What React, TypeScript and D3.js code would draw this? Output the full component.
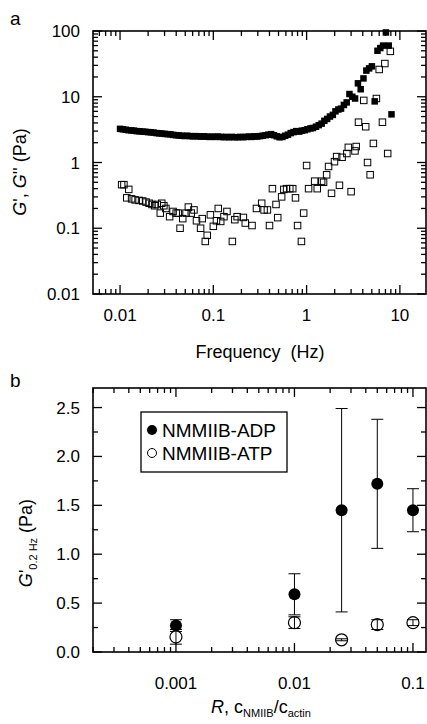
import React from "react";
import * as d3 from "d3";

// ---------- Panel a data ----------
const storageFreq = [0.0100,0.0107,0.0115,0.0123,0.0132,0.0141,0.0151,0.0162,0.0174,0.0186,0.0200,0.0214,0.0229,0.0246,0.0263,0.0282,0.0302,0.0324,0.0347,0.0372,0.0398,0.0427,0.0457,0.0490,0.0525,0.0562,0.0603,0.0646,0.0692,0.0741,0.0794,0.0851,0.0912,0.0977,0.105,0.112,0.120,0.129,0.138,0.148,0.158,0.170,0.182,0.195,0.209,0.224,0.240,0.257,0.275,0.295,0.316,0.339,0.363,0.389,0.417,0.447,0.479,0.513,0.550,0.589,0.631,0.676,0.724,0.776,0.832,0.891,0.955,1.02,1.10,1.17,1.26,1.35,1.45,1.55,1.66,1.78,1.91,2.04,2.19,2.34,2.51,2.69,2.88,3.09,3.31,3.55,3.80,4.07,4.37,4.68,5.01,5.37,5.75,6.17,6.61,7.08,7.59,8.13];
const storageModulus = [3.25,3.2,3.15,3.1,3.08,3.05,3.0,2.98,2.95,2.93,2.9,2.88,2.85,2.8,2.78,2.75,2.72,2.7,2.68,2.63,2.6,2.58,2.55,2.53,2.55,2.52,2.5,2.52,2.5,2.48,2.5,2.47,2.45,2.47,2.45,2.48,2.45,2.43,2.45,2.42,2.45,2.43,2.42,2.45,2.43,2.45,2.48,2.45,2.5,2.48,2.52,2.55,2.6,2.65,2.7,2.6,2.5,2.42,2.45,2.55,2.65,2.8,2.9,3.0,2.95,3.05,3.1,3.2,3.3,3.35,3.5,3.7,3.9,4.3,4.6,5.0,5.3,6.0,6.4,6.6,7.5,8.2,11.0,10.0,9.4,16.0,13.0,19.0,25.0,27.0,29.0,8.5,50.0,55.0,60.0,95.0,60.0,5.4];

const lossFreq = [0.0104,0.0110,0.0118,0.0124,0.0133,0.0145,0.0160,0.0175,0.0190,0.0205,0.0220,0.0235,0.0250,0.0270,0.0280,0.0295,0.0310,0.0340,0.0370,0.0400,0.0420,0.0440,0.0470,0.0510,0.0540,0.0580,0.0620,0.0660,0.0730,0.0760,0.0820,0.0860,0.0930,0.100,0.108,0.113,0.120,0.130,0.140,0.160,0.170,0.180,0.210,0.220,0.260,0.290,0.330,0.350,0.380,0.400,0.430,0.470,0.490,0.540,0.570,0.610,0.660,0.710,0.760,0.800,0.880,0.930,1.00,1.05,1.22,1.30,1.45,1.52,1.64,1.72,1.85,1.99,2.10,2.25,2.40,2.70,2.80,3.00,3.30,3.40,3.60,4.10,4.30,4.50,4.80,5.20,5.60,6.00,6.50,6.90,7.40,7.90];
const lossModulus = [0.46,0.46,0.29,0.39,0.28,0.27,0.265,0.26,0.25,0.24,0.23,0.22,0.23,0.17,0.24,0.22,0.20,0.15,0.18,0.17,0.17,0.10,0.14,0.17,0.21,0.17,0.19,0.13,0.10,0.14,0.063,0.078,0.16,0.107,0.13,0.20,0.127,0.15,0.18,0.063,0.135,0.15,0.146,0.12,0.11,0.20,0.24,0.19,0.19,0.11,0.40,0.23,0.145,0.30,0.39,0.40,0.40,0.40,0.29,0.11,0.063,0.17,0.90,0.40,0.52,0.40,0.52,0.50,0.65,0.87,0.34,1.03,1.23,0.45,1.20,1.37,1.70,0.36,1.50,1.75,4.1,8.8,3.5,1.0,0.65,1.95,9.4,26,4.1,32,1.37,49];

const aXTicks = [0.01, 0.1, 1, 10];
const aXLabels = ["0.01", "0.1", "1", "10"];
const aYTicks = [0.01, 0.1, 1, 10, 100];
const aYLabels = ["0.01", "0.1", "1", "10", "100"];

// ---------- Panel b data ----------
const ratios = [0.001, 0.01, 0.025, 0.05, 0.1];
const adpMean = [0.27, 0.59, 1.45, 1.72, 1.45];
const adpErr = [0.06, 0.21, 1.04, 0.66, 0.22];
const atpMean = [0.155, 0.30, 0.125, 0.28, 0.30];
const atpErr = [0.075, 0.06, 0.01, 0.05, 0.03];
const legendLabels = ["NMMIIB-ADP", "NMMIIB-ATP"];

const bXTicks = [0.001, 0.01, 0.1];
const bXLabels = ["0.001", "0.01", "0.1"];
const bYTicks = [0, 0.5, 1.0, 1.5, 2.0, 2.5];
const bYLabels = ["0.0", "0.5", "1.0", "1.5", "2.0", "2.5"];
const bYMinor = [0.25, 0.75, 1.25, 1.75, 2.25];

const FONT = "'Liberation Sans', Arial, Helvetica, sans-serif";
const MAJ = 9;
const MIN = 5;

function logMinor(domain: number[]) {
  const [a, b] = domain;
  const out: { v: number; major: boolean }[] = [];
  for (let k = Math.floor(Math.log10(a)); k <= Math.ceil(Math.log10(b)); k++) {
    for (let m = 1; m <= 9; m++) {
      const v = m * Math.pow(10, k);
      if (v >= a * 0.999 && v <= b * 1.001) out.push({ v, major: m === 1 });
    }
  }
  return out;
}

function Frame({ x, y, xTicks, yTicks }: any) {
  const [x0, x1] = x.range();
  const [y0, y1] = y.range();
  const lines: any[] = [];
  xTicks.forEach((t: any, i: number) => {
    const px = x(t.v);
    const L = t.major ? MAJ : MIN;
    lines.push(<line key={"xb" + i} x1={px} x2={px} y1={y0} y2={y0 - L} />);
    lines.push(<line key={"xt" + i} x1={px} x2={px} y1={y1} y2={y1 + L} />);
  });
  yTicks.forEach((t: any, i: number) => {
    const py = y(t.v);
    const L = t.major ? MAJ : MIN;
    lines.push(<line key={"yl" + i} x1={x0} x2={x0 + L} y1={py} y2={py} />);
    lines.push(<line key={"yr" + i} x1={x1} x2={x1 - L} y1={py} y2={py} />);
  });
  return (
    <g stroke="#000" strokeWidth={1.3} fill="none">
      <rect x={x0} y={y1} width={x1 - x0} height={y0 - y1} strokeWidth={1.6} />
      {lines}
    </g>
  );
}

export default function App() {
  const xA = d3.scaleLog().domain([Math.pow(10, -2.29), Math.pow(10, 1.28)]).range([93, 426]);
  const yA = d3.scaleLog().domain([0.01, 100]).range([294, 31]);
  const xB = d3.scaleLog().domain([Math.pow(10, -3.7), Math.pow(10, -0.89)]).range([93, 426]);
  const yB = d3.scaleLinear().domain([0, 2.7]).range([652, 388]);

  const sq = 6.5;
  const r = 6;

  return (
    <svg width={427} height={724} style={{ position: "absolute", left: 0, top: 0, background: "#fff" }} fontFamily={FONT}>
      <rect width={427} height={724} fill="#fff" />
      {/* ---------- Panel a ---------- */}
      <text x={10} y={25} fontSize={19}>a</text>
      <g fill="none" stroke="#000" strokeWidth={1}>
        {lossFreq.map((f, i) => (
          <rect key={i} x={xA(f) - sq / 2} y={yA(lossModulus[i]) - sq / 2} width={sq} height={sq} />
        ))}
      </g>
      <g fill="#000">
        {storageFreq.map((f, i) => (
          <rect key={i} x={xA(f) - sq / 2} y={yA(storageModulus[i]) - sq / 2} width={sq} height={sq} />
        ))}
      </g>
      <Frame x={xA} y={yA} xTicks={logMinor(xA.domain())} yTicks={logMinor(yA.domain())} />
      <g fontSize={17}>
        {aXTicks.map((t, i) => (
          <text key={i} x={xA(t)} y={321} textAnchor="middle">{aXLabels[i]}</text>
        ))}
        {aYTicks.map((t, i) => (
          <text key={i} x={80} y={yA(t) + 6} textAnchor="end">{aYLabels[i]}</text>
        ))}
      </g>
      <text x={260} y={358} fontSize={18} textAnchor="middle">Frequency{"\u00a0\u00a0"}(Hz)</text>
      <text transform="translate(26,172) rotate(-90)" fontSize={18} textAnchor="middle">
        <tspan fontStyle="italic">G</tspan>', <tspan fontStyle="italic">G</tspan>'' (Pa)
      </text>

      {/* ---------- Panel b ---------- */}
      <text x={10} y={387} fontSize={19}>b</text>
      <Frame
        x={xB}
        y={yB}
        xTicks={logMinor(xB.domain())}
        yTicks={[...bYTicks.map((v) => ({ v, major: true })), ...bYMinor.map((v) => ({ v, major: false }))]}
      />
      <g stroke="#000" strokeWidth={1}>
        {ratios.map((rr, i) => {
          const px = xB(rr);
          const lo = yB(adpMean[i] - adpErr[i]);
          const hi = yB(adpMean[i] + adpErr[i]);
          return (
            <g key={"ae" + i}>
              <line x1={px} x2={px} y1={lo} y2={hi} />
              <line x1={px - 6} x2={px + 6} y1={lo} y2={lo} />
              <line x1={px - 6} x2={px + 6} y1={hi} y2={hi} />
            </g>
          );
        })}
      </g>
      <g fill="#000">
        {ratios.map((rr, i) => (
          <circle key={i} cx={xB(rr)} cy={yB(adpMean[i])} r={r} />
        ))}
      </g>
      <g fill="#fff" stroke="#000" strokeWidth={1.2}>
        {ratios.map((rr, i) => (
          <circle key={i} cx={xB(rr)} cy={yB(atpMean[i])} r={r} />
        ))}
      </g>
      <g stroke="#000" strokeWidth={1}>
        {ratios.map((rr, i) => {
          const px = xB(rr);
          const lo = yB(atpMean[i] - atpErr[i]);
          const hi = yB(atpMean[i] + atpErr[i]);
          return (
            <g key={"te" + i}>
              <line x1={px} x2={px} y1={lo} y2={hi} />
              <line x1={px - 6} x2={px + 6} y1={lo} y2={lo} />
              <line x1={px - 6} x2={px + 6} y1={hi} y2={hi} />
            </g>
          );
        })}
      </g>
      <g fontSize={17}>
        {bXTicks.map((t, i) => (
          <text key={i} x={xB(t)} y={689} textAnchor="middle">{bXLabels[i]}</text>
        ))}
        {bYTicks.map((t, i) => (
          <text key={i} x={80} y={yB(t) + 6} textAnchor="end">{bYLabels[i]}</text>
        ))}
      </g>
      <rect x={141} y={412} width={146} height={60} fill="#fff" stroke="#000" strokeWidth={1.3} />
      <circle cx={152} cy={430} r={5} fill="#000" />
      <circle cx={152} cy={453} r={4.5} fill="#fff" stroke="#000" strokeWidth={1} />
      <text x={162} y={437} fontSize={19}>{legendLabels[0]}</text>
      <text x={162} y={460} fontSize={19}>{legendLabels[1]}</text>
      <text x={261} y={713} fontSize={18} textAnchor="middle">
        <tspan fontStyle="italic">R</tspan>, c<tspan fontSize={11} dy={4}>NMIIB</tspan>
        <tspan dy={-4}>/c</tspan><tspan fontSize={11} dy={4}>actin</tspan>
      </text>
      <text transform="translate(32,543) rotate(-90)" fontSize={18} textAnchor="middle">
        <tspan fontStyle="italic">G</tspan>'<tspan fontSize={11} dy={5}>0.2 Hz</tspan>
        <tspan dy={-5}> (Pa)</tspan>
      </text>
    </svg>
  );
}
